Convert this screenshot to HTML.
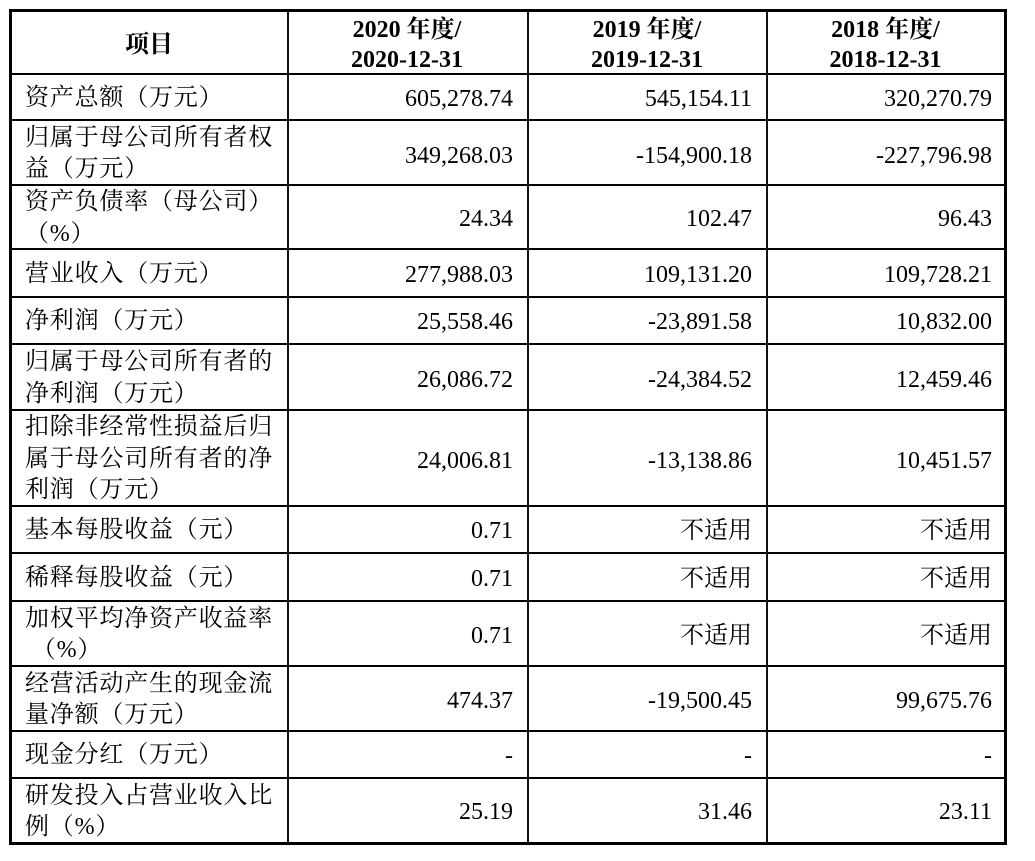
<!DOCTYPE html>
<html>
<head>
<meta charset="utf-8">
<style>
html,body{margin:0;padding:0;background:#fff;}
body{width:1035px;height:861px;position:relative;overflow:hidden;}
.outer{position:absolute;left:9px;top:9px;width:998px;height:836px;border:3.5px solid #000;box-sizing:border-box;}
.h{position:absolute;left:12px;width:992px;height:2px;background:#000;}
.v{position:absolute;top:12px;width:2px;height:830px;background:#111;}
.c{position:absolute;display:flex;align-items:center;white-space:nowrap;color:#000;}
.lab{font-family:"Liberation Serif","Noto Serif CJK SC",serif;font-size:24px;line-height:31.5px;letter-spacing:0.8px;justify-content:flex-start;padding-top:3px;box-sizing:border-box;}
.num{font-family:"Liberation Serif","Noto Serif CJK SC",serif;font-size:24px;line-height:32px;justify-content:flex-end;text-align:right;padding-top:3px;box-sizing:border-box;}
.hd{font-family:"Liberation Serif","Noto Serif CJK SC",serif;font-size:24px;line-height:30px;font-weight:bold;justify-content:center;text-align:center;padding-top:4px;box-sizing:border-box;}
</style>
</head>
<body>
<div class="outer"></div>
<!-- horizontal lines -->
<div class="h" style="top:73px"></div>
<div class="h" style="top:119px"></div>
<div class="h" style="top:184px"></div>
<div class="h" style="top:248px"></div>
<div class="h" style="top:296px"></div>
<div class="h" style="top:343px"></div>
<div class="h" style="top:409px"></div>
<div class="h" style="top:505px"></div>
<div class="h" style="top:552px"></div>
<div class="h" style="top:600px"></div>
<div class="h" style="top:665px"></div>
<div class="h" style="top:730px"></div>
<div class="h" style="top:777px"></div>
<!-- vertical lines -->
<div class="v" style="left:286.5px"></div>
<div class="v" style="left:526.5px"></div>
<div class="v" style="left:765.5px"></div>

<!-- header -->
<div class="c hd" style="left:12px;width:274px;top:12px;height:61px;">项目</div>
<div class="c hd" style="left:288px;width:238px;top:12px;height:61px;">2020 年度/<br>2020-12-31</div>
<div class="c hd" style="left:528px;width:238px;top:12px;height:61px;">2019 年度/<br>2019-12-31</div>
<div class="c hd" style="left:767px;width:237px;top:12px;height:61px;">2018 年度/<br>2018-12-31</div>

<!-- rows: label cells -->
<div class="c lab" style="left:25px;width:260px;top:75px;height:44px;">资产总额（万元）</div>
<div class="c lab" style="left:25px;width:260px;top:121px;height:63px;">归属于母公司所有者权<br>益（万元）</div>
<div class="c lab" style="left:25px;width:260px;top:186px;height:62px;">资产负债率（母公司）<br>（%）</div>
<div class="c lab" style="left:25px;width:260px;top:250px;height:46px;">营业收入（万元）</div>
<div class="c lab" style="left:25px;width:260px;top:298px;height:45px;">净利润（万元）</div>
<div class="c lab" style="left:25px;width:260px;top:345px;height:64px;">归属于母公司所有者的<br>净利润（万元）</div>
<div class="c lab" style="left:25px;width:260px;top:411px;height:94px;">扣除非经常性损益后归<br>属于母公司所有者的净<br>利润（万元）</div>
<div class="c lab" style="left:25px;width:260px;top:507px;height:45px;">基本每股收益（元）</div>
<div class="c lab" style="left:25px;width:260px;top:554px;height:46px;">稀释每股收益（元）</div>
<div class="c lab" style="left:25px;width:260px;top:602px;height:63px;">加权平均净资产收益率<br>&nbsp;（%）</div>
<div class="c lab" style="left:25px;width:260px;top:667px;height:63px;">经营活动产生的现金流<br>量净额（万元）</div>
<div class="c lab" style="left:25px;width:260px;top:732px;height:45px;">现金分红（万元）</div>
<div class="c lab" style="left:25px;width:260px;top:779px;height:63px;">研发投入占营业收入比<br>例（%）</div>

<!-- col 2020 -->
<div class="c num" style="left:290px;width:223px;top:75px;height:44px;">605,278.74</div>
<div class="c num" style="left:290px;width:223px;top:121px;height:66px;">349,268.03</div>
<div class="c num" style="left:290px;width:223px;top:186px;height:62px;">24.34</div>
<div class="c num" style="left:290px;width:223px;top:250px;height:46px;">277,988.03</div>
<div class="c num" style="left:290px;width:223px;top:298px;height:45px;">25,558.46</div>
<div class="c num" style="left:290px;width:223px;top:345px;height:66px;">26,086.72</div>
<div class="c num" style="left:290px;width:223px;top:411px;height:96px;">24,006.81</div>
<div class="c num" style="left:290px;width:223px;top:507px;height:45px;">0.71</div>
<div class="c num" style="left:290px;width:223px;top:554px;height:46px;">0.71</div>
<div class="c num" style="left:290px;width:223px;top:602px;height:65px;">0.71</div>
<div class="c num" style="left:290px;width:223px;top:667px;height:65px;">474.37</div>
<div class="c num" style="left:290px;width:223px;top:732px;height:45px;">-</div>
<div class="c num" style="left:290px;width:223px;top:779px;height:63px;">25.19</div>

<!-- col 2019 -->
<div class="c num" style="left:530px;width:222px;top:75px;height:44px;">545,154.11</div>
<div class="c num" style="left:530px;width:222px;top:121px;height:66px;">-154,900.18</div>
<div class="c num" style="left:530px;width:222px;top:186px;height:62px;">102.47</div>
<div class="c num" style="left:530px;width:222px;top:250px;height:46px;">109,131.20</div>
<div class="c num" style="left:530px;width:222px;top:298px;height:45px;">-23,891.58</div>
<div class="c num" style="left:530px;width:222px;top:345px;height:66px;">-24,384.52</div>
<div class="c num" style="left:530px;width:222px;top:411px;height:96px;">-13,138.86</div>
<div class="c num" style="left:530px;width:222px;top:507px;height:45px;">不适用</div>
<div class="c num" style="left:530px;width:222px;top:554px;height:46px;">不适用</div>
<div class="c num" style="left:530px;width:222px;top:602px;height:65px;">不适用</div>
<div class="c num" style="left:530px;width:222px;top:667px;height:65px;">-19,500.45</div>
<div class="c num" style="left:530px;width:222px;top:732px;height:45px;">-</div>
<div class="c num" style="left:530px;width:222px;top:779px;height:63px;">31.46</div>

<!-- col 2018 -->
<div class="c num" style="left:770px;width:222px;top:75px;height:44px;">320,270.79</div>
<div class="c num" style="left:770px;width:222px;top:121px;height:66px;">-227,796.98</div>
<div class="c num" style="left:770px;width:222px;top:186px;height:62px;">96.43</div>
<div class="c num" style="left:770px;width:222px;top:250px;height:46px;">109,728.21</div>
<div class="c num" style="left:770px;width:222px;top:298px;height:45px;">10,832.00</div>
<div class="c num" style="left:770px;width:222px;top:345px;height:66px;">12,459.46</div>
<div class="c num" style="left:770px;width:222px;top:411px;height:96px;">10,451.57</div>
<div class="c num" style="left:770px;width:222px;top:507px;height:45px;">不适用</div>
<div class="c num" style="left:770px;width:222px;top:554px;height:46px;">不适用</div>
<div class="c num" style="left:770px;width:222px;top:602px;height:65px;">不适用</div>
<div class="c num" style="left:770px;width:222px;top:667px;height:65px;">99,675.76</div>
<div class="c num" style="left:770px;width:222px;top:732px;height:45px;">-</div>
<div class="c num" style="left:770px;width:222px;top:779px;height:63px;">23.11</div>
</body>
</html>
